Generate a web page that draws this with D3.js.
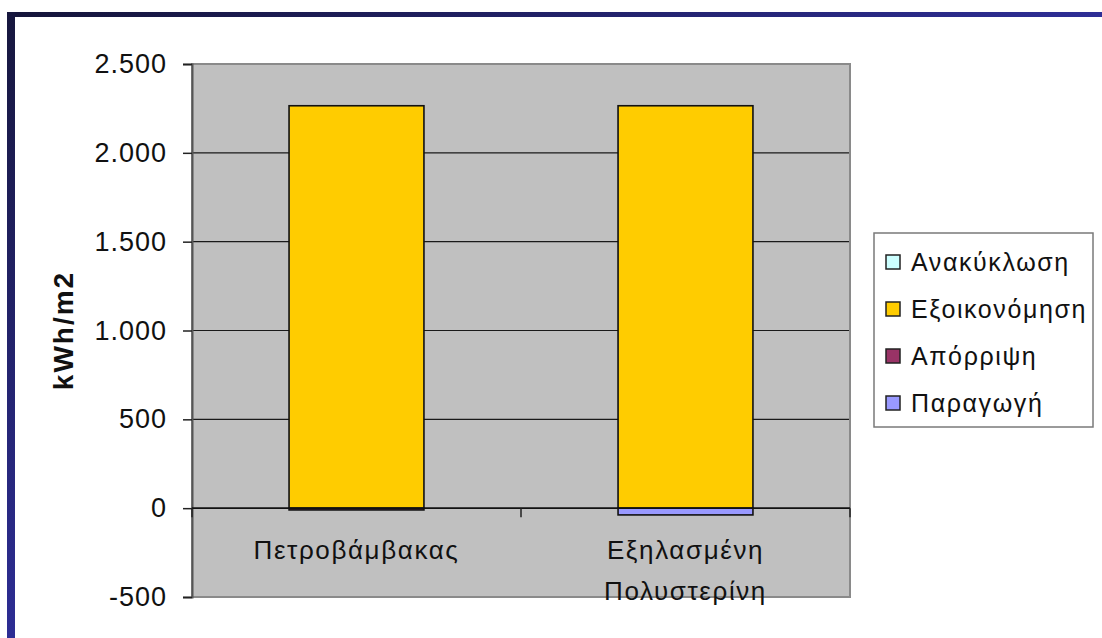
<!DOCTYPE html>
<html>
<head>
<meta charset="utf-8">
<script src="https://cdn.jsdelivr.net/npm/d3@7"></script>
<style>
  html, body { margin: 0; padding: 0; background: #ffffff; }
  svg { display: block; font-family: "Liberation Sans", Arial, sans-serif; }
</style>
</head>
<body>
<svg id="chart" width="1102" height="638"></svg>
<script>
// Insulation materials compared, in kWh/m2
const categories = ["Πετροβάμβακας", "Εξηλασμένη Πολυστερίνη"];
const seriesNames = ["Παραγωγή", "Απόρριψη", "Εξοικονόμηση", "Ανακύκλωση"];
const production = [0, -38];
const disposal = [-10, 0];
const savings = [2265, 2265];
const recycling = [0, 0];
const seriesColors = ["#9999ff", "#993366", "#ffcc00", "#ccffff"];
const yTicks = [-500, 0, 500, 1000, 1500, 2000, 2500];
const yTickLabels = ["-500", "0", "500", "1.000", "1.500", "2.000", "2.500"];
const yTitle = "kWh/m2";

const rows = categories.map((c, i) => ({
  category: c,
  "Παραγωγή": production[i],
  "Απόρριψη": disposal[i],
  "Εξοικονόμηση": savings[i],
  "Ανακύκλωση": recycling[i]
}));

const svg = d3.select("#chart");

// Slide frame: dark blue bars along the top and left edges
const defs = svg.append("defs");
const gTop = defs.append("linearGradient").attr("id", "frameTop")
  .attr("x1", "0%").attr("x2", "100%").attr("y1", "0%").attr("y2", "0%");
gTop.append("stop").attr("offset", "0%").attr("stop-color", "#15153a");
gTop.append("stop").attr("offset", "100%").attr("stop-color", "#2e2e96");
const gLeft = defs.append("linearGradient").attr("id", "frameLeft")
  .attr("x1", "0%").attr("x2", "0%").attr("y1", "0%").attr("y2", "100%");
gLeft.append("stop").attr("offset", "0%").attr("stop-color", "#17173e");
gLeft.append("stop").attr("offset", "100%").attr("stop-color", "#2d2d94");
svg.append("rect").attr("x", 7).attr("y", 12).attr("width", 1095).attr("height", 5).attr("fill", "url(#frameTop)");
svg.append("rect").attr("x", 7).attr("y", 12).attr("width", 8).attr("height", 626).attr("fill", "url(#frameLeft)");

const plot = { left: 192, right: 850, top: 64, bottom: 597 };

const y = d3.scaleLinear().domain([-500, 2500]).range([plot.bottom, plot.top]);
const x = d3.scaleBand().domain(categories).range([plot.left, plot.right])
  .paddingInner(0.59).paddingOuter(0.295);

// Plot background
svg.append("rect")
  .attr("x", plot.left).attr("y", plot.top)
  .attr("width", plot.right - plot.left).attr("height", plot.bottom - plot.top)
  .attr("fill", "#c0c0c0");

// Gridlines
svg.append("g").selectAll("line")
  .data(yTicks.filter(t => t > -500 && t !== 0))
  .join("line")
  .attr("x1", plot.left).attr("x2", plot.right)
  .attr("y1", d => y(d)).attr("y2", d => y(d))
  .attr("stroke", "#1a1a1a").attr("stroke-width", 1.2);

// Plot border
svg.append("rect")
  .attr("x", plot.left).attr("y", plot.top)
  .attr("width", plot.right - plot.left).attr("height", plot.bottom - plot.top)
  .attr("fill", "none").attr("stroke", "#8a8a8a").attr("stroke-width", 2);

// Stacked bars
const stack = d3.stack().keys(seriesNames).offset(d3.stackOffsetDiverging);
const layers = stack(rows);
svg.append("g").selectAll("g")
  .data(layers)
  .join("g")
  .attr("fill", (d, i) => seriesColors[i])
  .selectAll("rect")
  .data(d => d.filter(s => s[1] !== s[0]))
  .join("rect")
  .attr("x", d => x(d.data.category))
  .attr("width", x.bandwidth())
  .attr("y", d => y(Math.max(d[0], d[1])))
  .attr("height", d => Math.abs(y(d[0]) - y(d[1])))
  .attr("stroke", "#111")
  .attr("stroke-width", 1.6);

// Left value axis
const yAxis = d3.axisLeft(y).tickValues(yTicks)
  .tickFormat((d, i) => yTickLabels[i]).tickSize(9).tickPadding(14);
const ya = svg.append("g").attr("transform", `translate(${plot.left},0)`).call(yAxis);
ya.select(".domain").attr("stroke", "#555").attr("stroke-width", 2);
ya.selectAll(".tick line").attr("stroke", "#222").attr("stroke-width", 1.5);
ya.selectAll(".tick text").attr("font-size", 27).attr("fill", "#111")
  .attr("letter-spacing", 1).attr("dx", -2)
  .attr("font-family", "Liberation Sans, Arial, sans-serif");

// Category axis along zero
const zeroY = y(0);
svg.append("line").attr("x1", plot.left).attr("x2", plot.right)
  .attr("y1", zeroY).attr("y2", zeroY).attr("stroke", "#111").attr("stroke-width", 1.6);
const boundaries = [plot.left, ...categories.slice(1).map(c => x(c) - x.step() * x.paddingInner() / 2), plot.right];
svg.append("g").selectAll("line").data(boundaries).join("line")
  .attr("x1", d => d).attr("x2", d => d)
  .attr("y1", zeroY).attr("y2", zeroY + 9)
  .attr("stroke", "#222").attr("stroke-width", 1.5);

// Category labels (wrapped on spaces)
const catG = svg.append("g");
categories.forEach(c => {
  const words = c.split(" ");
  const cx = x(c) + x.bandwidth() / 2;
  const t = catG.append("text").attr("text-anchor", "middle")
    .attr("font-size", 26).attr("letter-spacing", 1.6).attr("fill", "#111");
  words.forEach((w, i) => {
    t.append("tspan").attr("x", cx).attr("y", 559 + i * 41).text(w);
  });
});

// Value axis title
svg.append("text")
  .attr("transform", `translate(73,${(plot.top + plot.bottom) / 2}) rotate(-90)`)
  .attr("text-anchor", "middle").attr("font-size", 28).attr("font-weight", "bold")
  .attr("letter-spacing", 2)
  .attr("fill", "#111").text(yTitle);

// Legend (top entry is the last series)
const legend = svg.append("g");
legend.append("rect").attr("x", 874).attr("y", 233).attr("width", 219).attr("height", 194)
  .attr("fill", "#fff").attr("stroke", "#7a7a7a").attr("stroke-width", 1.5);
const legendOrder = seriesNames.map((n, i) => ({ name: n, color: seriesColors[i] })).reverse();
const ly = d3.scalePoint().domain(legendOrder.map(d => d.name)).range([262, 403]);
const items = legend.selectAll("g.item").data(legendOrder).join("g").attr("class", "item")
  .attr("transform", d => `translate(0,${ly(d.name)})`);
items.append("rect").attr("x", 886).attr("y", -7).attr("width", 14).attr("height", 14)
  .attr("fill", d => d.color).attr("stroke", "#222").attr("stroke-width", 1.5);
items.append("text").attr("x", 911).attr("y", 9).attr("font-size", 25).attr("letter-spacing", 1.6)
  .attr("fill", "#111").text(d => d.name);
</script>
</body>
</html>
